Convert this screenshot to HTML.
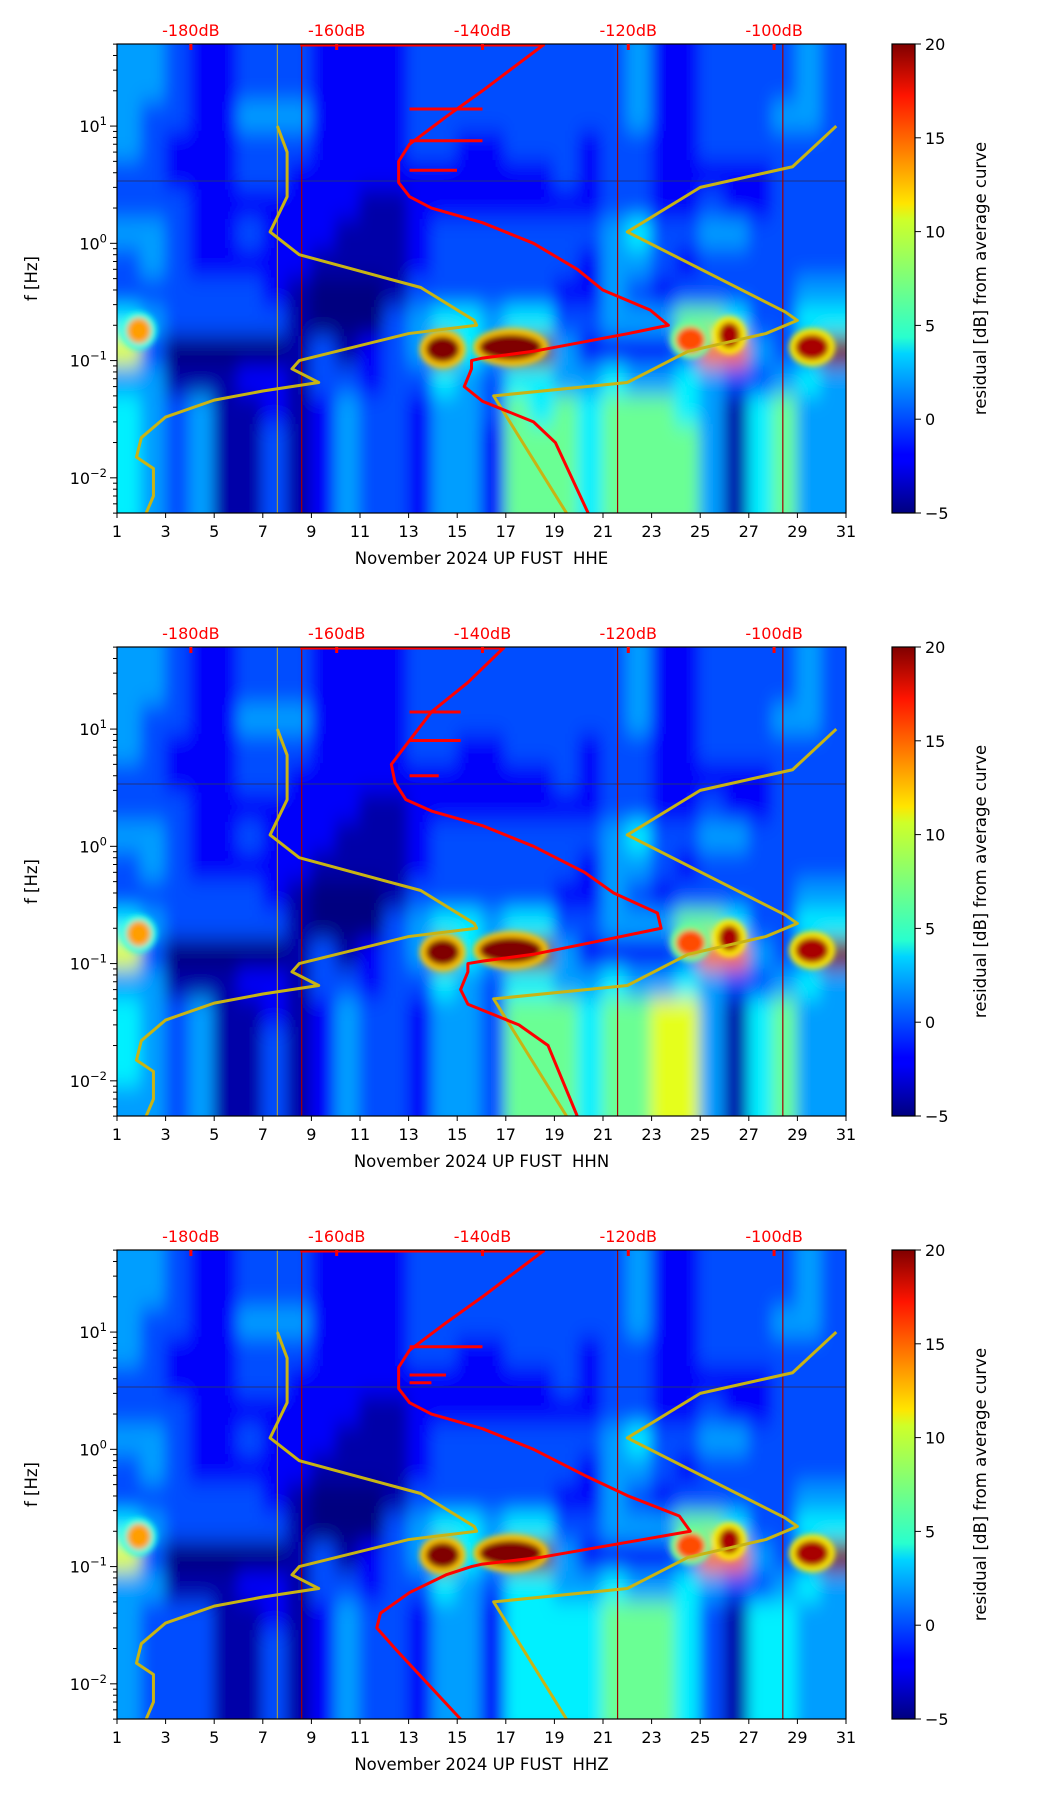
<!DOCTYPE html>
<html><head><meta charset="utf-8">
<style>
body{margin:0;background:#fff;}
svg{display:block;font-family:"DejaVu Sans","Liberation Sans",sans-serif;}
</style></head>
<body>
<svg id="fig" width="1052" height="1806" viewBox="0 0 1052 1806" xmlns="http://www.w3.org/2000/svg">
<defs>
<filter id="blur" x="-5%" y="-5%" width="110%" height="110%"><feGaussianBlur stdDeviation="7 11"/></filter>
<filter id="blur2" x="-50%" y="-50%" width="200%" height="200%"><feGaussianBlur stdDeviation="3"/></filter>
<linearGradient id="jet" x1="0" y1="1" x2="0" y2="0">
<stop offset="0" stop-color="#00007f"/><stop offset="0.11" stop-color="#0000ff"/><stop offset="0.125" stop-color="#0000ff"/>
<stop offset="0.34" stop-color="#00d4ff"/><stop offset="0.375" stop-color="#29ffce"/><stop offset="0.5" stop-color="#7dff7a"/>
<stop offset="0.625" stop-color="#ceff29"/><stop offset="0.66" stop-color="#ffe500"/><stop offset="0.89" stop-color="#ff1400"/><stop offset="1" stop-color="#800000"/>
</linearGradient>
</defs>
</svg>
<script>
// ---- data ----
const days = [1,3,5,7,9,11,13,15,17,19,21,23,25,27,29,31];
const yDecades = [1,0,-1,-2];
const cbTicks = [-5,0,5,10,15,20];
const dbTicks = [-180,-160,-140,-120,-100];
const channels = ["HHE","HHN","HHZ"];
// residual levels digits 0..9 ; rows quarter-decade from 50 Hz down, cols = days 1..30
const levelMap = [-5,-4,-2,0,2,4,7,10,14,20];
const gridE = [
"443223332222333333333422333343",
"443223332222333333333422333343",
"433224442222333333333422333443",
"432223332222332233323322333333",
"332223322222222222323322222333",
"333222222211222222223322322333",
"443223222111233333334533443333",
"343222221111233333324432333333",
"333333210001333333224323333344",
"543333310003455455334446653355",
"730000013123495499422223884339",
"441112213323354355445445433454",
"543411212433244365656665415644",
"543411312433244266656666415644",
"543411312433244266656666415644",
"543411312433244266656666415644"];
const gridN = gridE.slice(0,10).concat([
"730000013123495499422223884339",
"441112213323354355445445433454",
"543411212433244366656677415644",
"543411312433244366656677415644",
"543411312433244366656677415644",
"443411312433244366656677415644"]);
const gridZ = gridE.slice(0,10).concat([
"730000013123495499422223884339",
"441112213323354355445445433454",
"433311212433244255556665315544",
"433311312433244255556665315544",
"433311312433244255556665315544",
"433311312433244255556665315544"]);
// intense residual blobs: day, Hz, dB level, half-width (days)
const blobDay   = [14.4,17.2,24.6,26.2,29.6,1.9];
const blobFreq  = [0.125,0.13,0.15,0.165,0.13,0.18];
const blobLevel = [20,20,15,19,19,13];
const blobWidth = [0.7,1.3,0.6,0.45,0.7,0.5];
// yellow curves (day, Hz)
const yelA_day = [7.6,8,8,7.3,8.5,13.5,15.7,15.8,13,8.5,8.2,9.3,7,5,3,2,1.8,2.5,2.5,2.2];
const yelA_f   = [10,6,2.5,1.25,0.8,0.42,0.22,0.2,0.17,0.1,0.085,0.065,0.055,0.046,0.033,0.022,0.015,0.012,0.007,0.005];
const yelB_day = [30.6,28.8,25,22,28.5,29,27.7,24.5,22,16.5,19.5];
const yelB_f   = [10,4.5,3,1.25,0.26,0.22,0.17,0.12,0.065,0.05,0.005];
// red noise curves (dB on top axis, Hz)
const redE_db = [-131.5,-140,-145,-150,-151.5,-151.5,-150,-147,-140,-133,-127,-123.5,-117,-114.5,-120,-133,-140,-141.5,-141.5,-142.5,-140,-133,-130,-125.5];
const redE_f  = [50,20,12,7,5,3.3,2.5,2,1.5,1,0.6,0.4,0.27,0.2,0.17,0.12,0.105,0.1,0.085,0.06,0.045,0.03,0.02,0.005];
const redN_db = [-137,-142,-147,-150,-152.5,-152,-150.5,-147,-140,-133,-126,-122,-116,-115.5,-121,-133,-140,-142,-142,-143,-142,-135,-131,-127];
const redN_f  = [50,25,14,8,5,3.5,2.5,2,1.5,1,0.6,0.4,0.27,0.2,0.17,0.12,0.105,0.1,0.085,0.06,0.045,0.03,0.02,0.005];
const redZ_db = [-131.5,-140,-145,-150,-151.5,-151.5,-150,-147,-140,-133,-126,-120,-113,-111.5,-118,-132,-140,-141.5,-145,-150,-154,-154.5,-152,-143];
const redZ_f  = [50,20,12,7,5,3.3,2.5,2,1.5,1,0.6,0.4,0.27,0.2,0.17,0.12,0.105,0.1,0.085,0.06,0.04,0.03,0.02,0.005];
const spikesE = [[14,-140],[7.5,-140],[4.2,-143.5]];
const spikesN = [[14,-143],[8,-143],[4,-146]];
const spikesZ = [[7.5,-140],[4.3,-145],[3.7,-147]];
// ---- layout ----
const L=117, R=846, H=469, tops=[44,647,1250], CBX=892, CBW=23;
const NS="http://www.w3.org/2000/svg";
const svg=document.getElementById('fig');
function mk(tag,attrs,parent){const e=document.createElementNS(NS,tag);for(const k in attrs)e.setAttribute(k,attrs[k]);(parent||svg).appendChild(e);return e;}
function jet(v){let t=(v+5)/25;t=Math.max(0,Math.min(1,t));
 const r=Math.max(0,Math.min(1,1.5-Math.abs(4*t-3))),g=Math.max(0,Math.min(1,1.5-Math.abs(4*t-2))),b=Math.max(0,Math.min(1,1.5-Math.abs(4*t-1)));
 return `rgb(${Math.round(r*255)},${Math.round(g*255)},${Math.round(b*255)})`;}
const grids=[gridE,gridN,gridZ], reds=[[redE_db,redE_f],[redN_db,redN_f],[redZ_db,redZ_f]], spikes=[spikesE,spikesN,spikesZ];
tops.forEach((T,pi)=>{
 const x=d=>L+(d-1)*(R-L)/30;
 const y=f=>T+(1.7-Math.log10(f))*H/4;
 const xdb=db=>x(4.04+(db+180)*0.3);
 const g=mk('g',{});
 
 
 const cid='clip'+pi;
 const cp=mk('clipPath',{id:cid},g); mk('rect',{x:L,y:T,width:R-L,height:H},cp);
 const hm=mk('g',{'clip-path':`url(#${cid})`},g);
 
 
 mk('rect',{x:L,y:T,width:R-L,height:H,fill:'#1040e0'},hm);
 const inner=mk('g',{filter:'url(#blur)'},hm);
 const grid=grids[pi];
 grid.forEach((row,ri)=>{
  for(let ci=0;ci<row.length;ci++){
   const v=levelMap[+row[ci]];
   const lf0=1.7-0.25*ri, f0=Math.pow(10,lf0), f1=Math.pow(10,lf0-0.25);
   const ext=(ri==0?20:0), extB=(ri==grid.length-1?20:0), extL=(ci==0?20:0), extR=(ci==row.length-1?20:0);
   const c=mk('rect',{x:x(ci+1)-1-extL,y:y(f0)-1-ext,width:(R-L)/30+2+extL+extR,height:y(f1)-y(f0)+2+ext+extB,fill:jet(v)},inner);
   
   
  }});
 const bl=mk('g',{filter:'url(#blur2)'},hm);
 blobDay.forEach((d,i)=>{
  const hw=(x(d+blobWidth[i])-x(d));
  mk('ellipse',{cx:x(d),cy:y(blobFreq[i]),rx:hw+6,ry:19,fill:jet(blobLevel[i]-8)},bl);
  const e=mk('ellipse',{cx:x(d),cy:y(blobFreq[i]),rx:hw,ry:13,fill:jet(blobLevel[i])},bl);
  
  
 });
 mk('line',{x1:L,x2:R,y1:y(3.4),y2:y(3.4),stroke:'#203080','stroke-width':1},hm);
 [8.6,21.6,28.4].forEach(d=>mk('line',{x1:x(d),x2:x(d),y1:T,y2:T+H,stroke:'#a00000','stroke-width':1.2},hm));
 mk('line',{x1:x(7.6),x2:x(7.6),y1:T,y2:T+H,stroke:'#e0c000','stroke-width':1.2,opacity:0.7},hm);
 const ya=mk('polyline',{points:yelA_day.map((d,i)=>x(d)+','+y(yelA_f[i])).join(' '),fill:'none',stroke:'#c8b414','stroke-width':3,'stroke-linejoin':'round'},hm);
 
 
 const yb=mk('polyline',{points:yelB_day.map((d,i)=>x(d)+','+y(yelB_f[i])).join(' '),fill:'none',stroke:'#c8b414','stroke-width':3,'stroke-linejoin':'round'},hm);
 
 
 const [rdb,rf]=reds[pi];
 mk('line',{x1:xdb(-165),x2:xdb(rdb[0]),y1:T+1,y2:T+1,stroke:'#ff0000','stroke-width':3},hm);
 const rl=mk('polyline',{points:rdb.map((v,i)=>xdb(v)+','+y(rf[i])).join(' '),fill:'none',stroke:'#ff0000','stroke-width':3,'stroke-linejoin':'round'},hm);
 
 
 spikes[pi].forEach(s=>{
  const sp=mk('line',{x1:xdb(-150),x2:xdb(s[1]),y1:y(s[0]),y2:y(s[0]),stroke:'#ff0000','stroke-width':3},hm);
  
  
 });
 mk('rect',{x:L,y:T,width:R-L,height:H,fill:'none',stroke:'#000','stroke-width':1.2},g);
 days.forEach(d=>{mk('line',{x1:x(d),x2:x(d),y1:T+H,y2:T+H+5,stroke:'#000'},g);
  const t=mk('text',{x:x(d),y:T+H+24,'text-anchor':'middle','font-size':16},g);t.textContent=d;
  });
 const xl=mk('text',{x:(L+R)/2,y:T+H+51,'text-anchor':'middle','font-size':16.5},g);
 xl.textContent='November 2024 UP FUST\u00a0 '+channels[pi];
 
 dbTicks.forEach(db=>{mk('line',{x1:xdb(db),x2:xdb(db),y1:T,y2:T+6,stroke:'#ff0000','stroke-width':3},g);
  const t=mk('text',{x:xdb(db),y:T-8,'text-anchor':'middle','font-size':16,fill:'#ff0000'},g);t.textContent=db+'dB';
  });
 for(let dec=-3;dec<=1;dec++)for(let m=1;m<10;m++){const f=m*Math.pow(10,dec);if(f<0.005||f>50)continue;
  mk('line',{x1:L-(m==1?7:4),x2:L,y1:y(f),y2:y(f),stroke:'#000','stroke-width':1},g);}
 yDecades.forEach(e=>{const t=mk('text',{x:L-10,y:y(Math.pow(10,e))+6,'text-anchor':'end','font-size':16},g);
  t.innerHTML='10<tspan dy="-7" font-size="11.5">'+(e<0?'\u2212'+(-e):e)+'</tspan>';
  });
 const yl=mk('text',{transform:`translate(37,${T+H/2}) rotate(-90)`,'text-anchor':'middle','font-size':16.5},g);
 yl.textContent='f [Hz]';
 const cb=mk('rect',{x:CBX,y:T,width:CBW,height:H,fill:'url(#jet)',stroke:'#000','stroke-width':1.2},g);
 
 cbTicks.forEach(v=>{const yy=T+H-(v+5)/25*H;mk('line',{x1:CBX+CBW,x2:CBX+CBW+6,y1:yy,y2:yy,stroke:'#000'},g);
  const t=mk('text',{x:CBX+CBW+10,y:yy+6,'font-size':16},g);t.textContent=v<0?'\u2212'+(-v):v;
  });
 const cl=mk('text',{transform:`translate(986,${T+H/2}) rotate(-90)`,'text-anchor':'middle','font-size':16.5},g);
 cl.textContent='residual [dB] from average curve';
});
</script>
</body></html>
